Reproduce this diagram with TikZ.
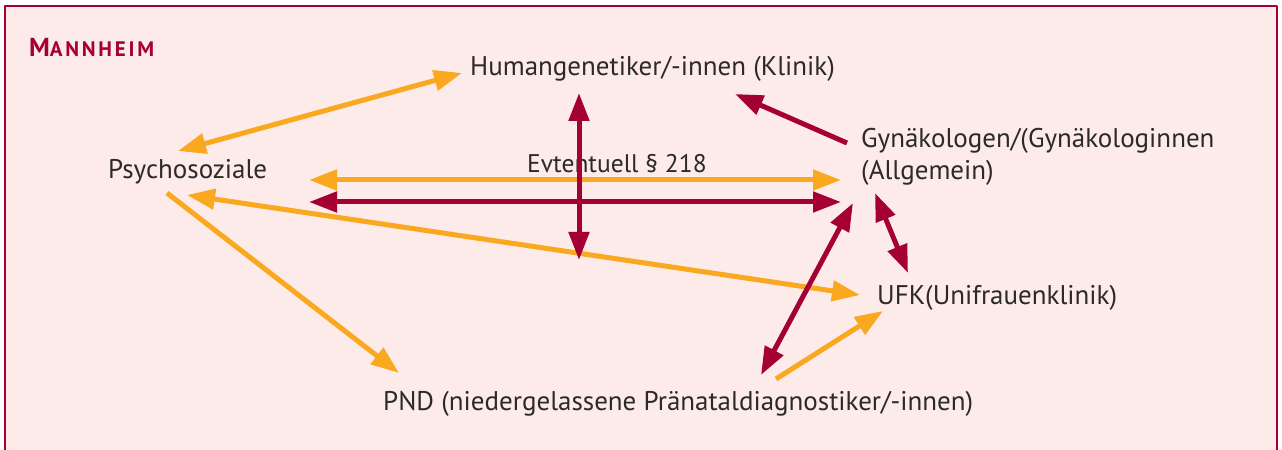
\documentclass[tikz,border=0pt]{standalone}
\usepackage{fontspec}
\setmainfont{PT Sans}
\usetikzlibrary{arrows.meta}
\definecolor{mhred}{HTML}{A50034}
\definecolor{mhorange}{HTML}{F9A81F}
\definecolor{mhpink}{HTML}{FDEBEA}
\definecolor{mhtext}{HTML}{2B2A29}
\tikzset{
  label_text/.style={draw=none,inner sep=0pt,anchor=base west,text=mhtext,
    font=\fontsize{27bp}{32bp}\selectfont},
  link_or/.style={mhorange,line width=5bp},
  link_rd/.style={mhred,line width=5bp},
}
\begin{document}
\begin{tikzpicture}[x=1bp,y=-1bp,>={Triangle[length=28bp,width=20bp]},line join=bevel,]
\useasboundingbox (0,0) rectangle (1282,450);
\draw [mhred,fill=mhpink,line width=2bp] (5,6) rectangle (1277,470);
%%
\node (node_title) at (29,57) [label_text,text=mhred,font=\bfseries\addfontfeature{LetterSpace=13}]
  {{\fontsize{26bp}{28bp}\selectfont M}{\fontsize{21bp}{28bp}\selectfont ANNHEIM}};
  \node (node_hum) at (470,76) [label_text] {Humangenetiker/-innen (Klinik)};
  \node (node_psy) at (108,179) [label_text] {Psychosoziale};
  \node (node_evt) at (527,173) [label_text,font=\fontsize{25.5bp}{32bp}\selectfont] {Evtentuell \S~218};
  \node (node_gyn) at (861,180) [label_text,align=left] {Gynäkologen/(Gynäkologinnen\\(Allgemein)};
  \node (node_ufk) at (877,305) [label_text] {UFK(Unifrauenklinik)};
  \node (node_pnd) at (383,411) [label_text] {PND (niedergelassene Pränataldiagnostiker/-innen)};
%
\coordinate (psy_up) at (178,151);
  \coordinate (psy_in) at (187,195);
  \coordinate (psy_out) at (167,193);
  \coordinate (hum_w) at (462,73);
  \coordinate (hum_s) at (579,93);
  \coordinate (hum_se) at (735,94);
  \coordinate (evt_s) at (579,260);
  \coordinate (left_a) at (309,180);
  \coordinate (left_b) at (309,202);
  \coordinate (gyn_a) at (841,180);
  \coordinate (gyn_b) at (841,202);
  \coordinate (gyn_w) at (847,143);
  \coordinate (gyn_sw) at (853,203);
  \coordinate (gyn_s) at (875,193);
  \coordinate (ufk_n) at (908,273);
  \coordinate (ufk_w) at (860,295);
  \coordinate (ufk_sw) at (883,311);
  \coordinate (pnd_nw) at (399,373);
  \coordinate (pnd_n) at (761,375);
  \coordinate (pnd_ne) at (776,379);
%
\draw [link_or,<->] (psy_up) -- (hum_w);
  \draw [link_or,<->] (left_a) -- (gyn_a);
  \draw [link_or,<->] (psy_in) -- (ufk_w);
  \draw [link_or,->] (psy_out) -- (pnd_nw);
  \draw [link_or,->] (pnd_ne) -- (ufk_sw);
  \draw [link_rd,<->] (left_b) -- (gyn_b);
  \draw [link_rd,<->] (evt_s) -- (hum_s);
  \draw [link_rd,->] (gyn_w) -- (hum_se);
  \draw [link_rd,<->] (gyn_sw) -- (pnd_n);
  \draw [link_rd,<->] (gyn_s) -- (ufk_n);
%
\end{tikzpicture}
\end{document}
